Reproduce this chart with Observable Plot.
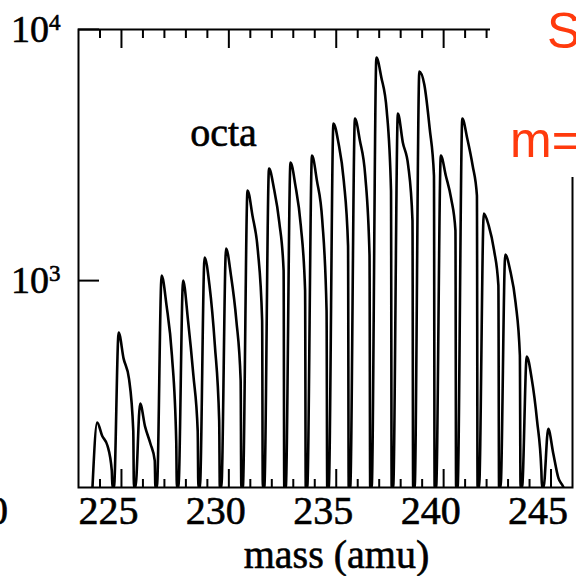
<!DOCTYPE html>
<html>
<head>
<meta charset="utf-8">
<script src="https://cdn.jsdelivr.net/npm/d3@7"></script>
<script src="https://cdn.jsdelivr.net/npm/@observablehq/plot@0.6"></script>
<style>
  html, body { margin: 0; padding: 0; background: #fff; color: #000; }
  #chart { position: relative; width: 576px; height: 576px; overflow: hidden; }
  #chart svg { display: block; }
  #chart svg text { stroke: #000; stroke-width: 0.6px; }
  .inset { position: absolute; left: 490px; top: 0; width: 86px; height: 177px; background: #fff; overflow: hidden; }
  .inset span { position: absolute; font-family: "Liberation Sans", Arial, sans-serif; font-size: 50px; line-height: 50px; color: #ff3a0d; white-space: nowrap; }
  .edge { position: absolute; left: -12px; top: 491px; font-family: "Liberation Serif", "Times New Roman", serif; font-size: 40px; line-height: 40px; -webkit-text-stroke: 0.6px #000; }
</style>
</head>
<body>
<div id="chart">
  <div class="edge">0</div>
</div>
<script>
// Nominal masses of the ion peaks (amu)
const masses = [224, 225, 226, 227, 228, 229, 230, 231, 232, 233, 234, 235,
                236, 237, 238, 239, 240, 241, 242, 243, 244, 245];
// Peak maximum of each mass line (counts)
const topCounts = [272, 621, 324, 1047, 1000, 1235, 1341, 2284, 2793, 2952, 3148, 4220,
                   4419, 7731, 4627, 6805, 3148, 4419, 1849, 1270, 498, 257];
// Signal along the trailing edge of each line: shortly after, halfway, and at the end
const earlyCounts = [241, 489, 262, 795, 693, 955, 1047, 1815, 2327, 2389, 2502, 3548,
                     3614, 6442, 3548, 6039, 2620, 3681, 1656, 1096, 407, 206];
const midCounts = [220, 407, 224, 503, 418, 551, 693, 1318, 1703, 1656, 1734, 2502,
                   2620, 4756, 2872, 4035, 2122, 2872, 1318, 817, 277, 163];
const lateCounts = [175, 252, 192, 230, 252, 277, 400, 693, 1096, 912, 759, 1378,
                    1259, 2284, 1734, 2620, 1582, 2181, 955, 503, 175, 152];
// Where each sample sits relative to the nominal mass (amu): onset, max, early, mid, late, drop
const profileOffsets = [-0.35, -0.13, 0.1, 0.35, 0.55, 0.58];
const floorCounts = 150;

// Axis ticks
const xTickLabels = [225, 230, 235, 240, 245];
const xMinorTicks = d3.range(224, 246).filter(m => m % 5 !== 0);
const yTicks = [1000, 10000];
const yTickExponents = ["3", "4"];

// Annotation
const seriesLabel = [{mass: 228.2, counts: 3850, text: "octa"}];

// One continuous trace through all mass lines
const trace = [];
masses.forEach((m, i) => {
  const levels = [floorCounts, topCounts[i], earlyCounts[i], midCounts[i], lateCounts[i], floorCounts];
  profileOffsets.forEach((o, j) => trace.push({mass: m + o, counts: levels[j]}));
});

const noText = () => "";

const chart = Plot.plot({
  width: 576,
  height: 576,
  marginTop: 29,
  marginRight: 4,
  marginBottom: 89,
  marginLeft: 78,
  style: {
    fontFamily: '"Liberation Serif", "Times New Roman", serif',
    fontSize: "40px",
    color: "#000",
    background: "#fff"
  },
  x: {domain: [223, 246]},
  y: {type: "log", domain: [floorCounts, 10000]},
  marks: [
    Plot.line(trace, {x: "mass", y: "counts", stroke: "#000", strokeWidth: 2.6, curve: "monotone-x", clip: true}),
    Plot.frame({stroke: "#000", strokeWidth: 2}),
    // inward minor ticks, bottom and top
    Plot.axisX(xMinorTicks, {anchor: "bottom", tickSize: -8, tickFormat: noText, label: null, strokeWidth: 2}),
    Plot.axisX(xMinorTicks, {anchor: "top", tickSize: -8, tickFormat: noText, label: null, strokeWidth: 2}),
    // inward major ticks, bottom and top
    Plot.axisX(xTickLabels, {anchor: "bottom", tickSize: -18, tickFormat: noText, label: null, strokeWidth: 2}),
    Plot.axisX(xTickLabels, {anchor: "top", tickSize: -18, tickFormat: noText, label: null, strokeWidth: 2}),
    // bottom tick labels
    Plot.axisX(xTickLabels, {anchor: "bottom", tickSize: 0, tickPadding: 8, dx: -13, label: null}),
    // log axis with inward ticks
    Plot.axisY(yTicks, {
      anchor: "left", tickSize: -21, tickPadding: 39, label: null, strokeWidth: 2,
      tickFormat: d => "10" + yTickExponents[yTicks.indexOf(d)]
    }),
    Plot.text(["mass (amu)"], {frameAnchor: "bottom", dx: 11, dy: 80, lineAnchor: "bottom"}),
    Plot.text(seriesLabel, {x: "mass", y: "counts", text: "text", textAnchor: "start", lineAnchor: "middle"})
  ]
});

// power-of-ten labels: base plus raised exponent
d3.select(chart).selectAll('g[aria-label="y-axis tick label"] text').each(function () {
  const s = this.textContent;
  const t = d3.select(this).text("");
  t.append("tspan").attr("font-size", 38).text(s.slice(0, 2));
  t.append("tspan").attr("font-size", 23).attr("dy", -12).text(s.slice(2));
});

const root = document.getElementById("chart");
root.insertBefore(chart, root.firstChild);

// legend box in the upper right
const inset = document.createElement("div");
inset.className = "inset";
inset.innerHTML = '<span style="left:57px;top:6px">S</span><span style="left:20px;top:115px">m=</span>';
root.appendChild(inset);
</script>
</body>
</html>
